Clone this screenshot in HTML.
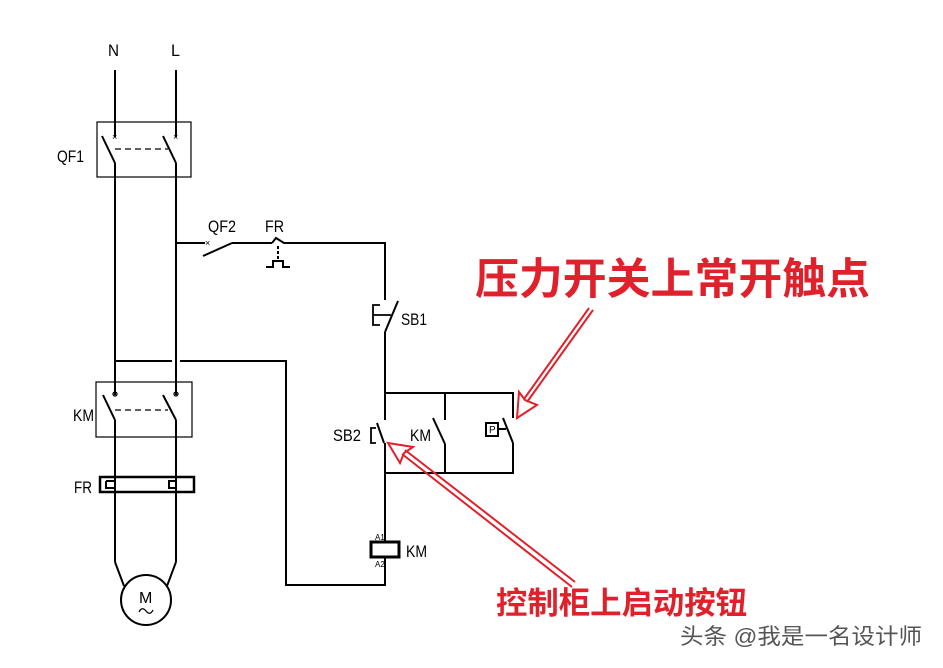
<!DOCTYPE html>
<html><head><meta charset="utf-8"><style>
html,body{margin:0;padding:0;background:#fff;}
svg{display:block}
</style></head><body>
<svg width="943" height="668" viewBox="0 0 943 668" xmlns="http://www.w3.org/2000/svg">
<g stroke="#000" stroke-width="2" fill="none">
<line x1="115" y1="70" x2="115" y2="137"/>
<line x1="176" y1="70" x2="176" y2="137"/>
<rect x="97" y="122" width="94" height="55" stroke-width="1.2"/>
<line x1="102" y1="136" x2="115" y2="163"/>
<line x1="163" y1="136" x2="176" y2="163"/>
<line x1="115" y1="149" x2="168" y2="149" stroke-dasharray="6,4" stroke-width="1.3"/>
<line x1="115" y1="163" x2="115" y2="395"/>
<line x1="176" y1="163" x2="176" y2="395"/>
<line x1="176" y1="243" x2="205" y2="243"/>
<line x1="203" y1="256" x2="232" y2="243"/>
<line x1="232" y1="243" x2="272" y2="243"/>
<path d="M272 243 L276 238 L284 243 L385 243 L385 300"/>
<line x1="278" y1="246" x2="278" y2="262" stroke-dasharray="3,2"/>
<path d="M266 267 L273 267 L273 261 L283 261 L283 267 L290 267"/>
<line x1="385" y1="332" x2="398" y2="301"/>
<path d="M380 305 L373 305 L373 325 L380 325 M373 315 L391 315" stroke-width="1.8"/>
<line x1="385" y1="332" x2="385" y2="420"/>
<path d="M385 393 L513 393 L513 418"/>
<line x1="445" y1="393" x2="445" y2="420"/>
<line x1="433" y1="418" x2="445" y2="444"/>
<line x1="445" y1="444" x2="445" y2="473"/>
<line x1="503" y1="418" x2="513" y2="443"/>
<path d="M513 443 L513 473 L385 473"/>
<rect x="486" y="423" width="12" height="13" stroke-width="2"/>
<line x1="498" y1="429" x2="506" y2="429"/>
<line x1="377" y1="423" x2="384" y2="443"/>
<path d="M376 428 L371 428 L371 443 L376 443" stroke-width="1.8"/>
<line x1="385" y1="443" x2="385" y2="542"/>
<rect x="371" y="542" width="28" height="15" stroke-width="3"/>
<path d="M385 557 L385 585 L286 585 L286 361 L180 361 M172 361 L115 361"/>
<rect x="96" y="382" width="96" height="55" stroke-width="1.2"/>
<circle cx="115" cy="394" r="2" stroke-width="1.3"/>
<circle cx="176" cy="394" r="2" stroke-width="1.3"/>
<line x1="103" y1="395" x2="115" y2="420"/>
<line x1="163" y1="395" x2="176" y2="420"/>
<line x1="115" y1="410" x2="168" y2="410" stroke-dasharray="6,4" stroke-width="1.3"/>
<line x1="115" y1="420" x2="115" y2="562"/>
<line x1="176" y1="420" x2="176" y2="562"/>
<rect x="100" y="477" width="94" height="15" stroke-width="2.5"/>
<path d="M106 481 L115 481 M106 481 L106 488 L115 488" stroke-width="2"/>
<path d="M176 481 L169 481 L169 488 L176 488" stroke-width="2"/>
<line x1="115" y1="562" x2="124" y2="586"/>
<line x1="176" y1="562" x2="167" y2="586"/>
<circle cx="146" cy="600" r="25"/>
<path d="M139 612 Q142 606 146 611 Q150 616 153 610" stroke-width="1.3"/>
</g>
<g font-family="Liberation Sans, sans-serif" font-size="17" fill="#000">
<text x="108" y="56" transform="scale(1,1)" textLength="11" lengthAdjust="spacingAndGlyphs">N</text>
<text x="171" y="56" textLength="9" lengthAdjust="spacingAndGlyphs">L</text>
<text x="57" y="162" textLength="27" lengthAdjust="spacingAndGlyphs">QF1</text>
<text x="208" y="232" textLength="28" lengthAdjust="spacingAndGlyphs">QF2</text>
<text x="265" y="232" textLength="19" lengthAdjust="spacingAndGlyphs">FR</text>
<text x="401" y="325" textLength="26" lengthAdjust="spacingAndGlyphs">SB1</text>
<text x="333" y="441" textLength="28" lengthAdjust="spacingAndGlyphs">SB2</text>
<text x="410" y="441" textLength="21" lengthAdjust="spacingAndGlyphs">KM</text>
<text x="406" y="557" textLength="21" lengthAdjust="spacingAndGlyphs">KM</text>
<text x="73" y="421" textLength="21" lengthAdjust="spacingAndGlyphs">KM</text>
<text x="74" y="493" textLength="18" lengthAdjust="spacingAndGlyphs">FR</text>
<text x="139" y="603" font-size="16">M</text>
<text x="375" y="540" font-size="8">A1</text>
<text x="375" y="567" font-size="8">A2</text>
<text x="489" y="433" font-size="10">P</text>
</g>
<text x="205" y="246" font-size="9" font-family="Liberation Sans, sans-serif">×</text>
<text x="112" y="140" font-size="9" font-family="Liberation Sans, sans-serif">×</text>
<text x="173" y="140" font-size="9" font-family="Liberation Sans, sans-serif">×</text>
<g stroke="#e0202a" stroke-width="2" fill="none">
<line x1="593" y1="310" x2="527" y2="402"/>
<line x1="589" y1="308" x2="524" y2="399"/>
<path d="M517 418 L519 392 L525 400 L537 405 Z"/>
<line x1="572" y1="587" x2="402" y2="454"/>
<line x1="575" y1="582" x2="405" y2="450"/>
<path d="M388 443 L413 447 L404 453 L400 463 Z"/>
</g>
<g font-family="Liberation Sans, 'Noto Sans CJK SC', sans-serif" fill="#e0202a" font-weight="bold">
<text x="475" y="294" font-size="43" textLength="395" lengthAdjust="spacingAndGlyphs">压力开关上常开触点</text>
<text x="496" y="614" font-size="31" textLength="251" lengthAdjust="spacingAndGlyphs">控制柜上启动按钮</text>
</g>
<text x="680" y="644" font-family="Liberation Sans, 'Noto Sans CJK SC', sans-serif" font-size="22" fill="#555" textLength="242" lengthAdjust="spacingAndGlyphs">头条 @我是一名设计师</text>
</svg>
</body></html>
